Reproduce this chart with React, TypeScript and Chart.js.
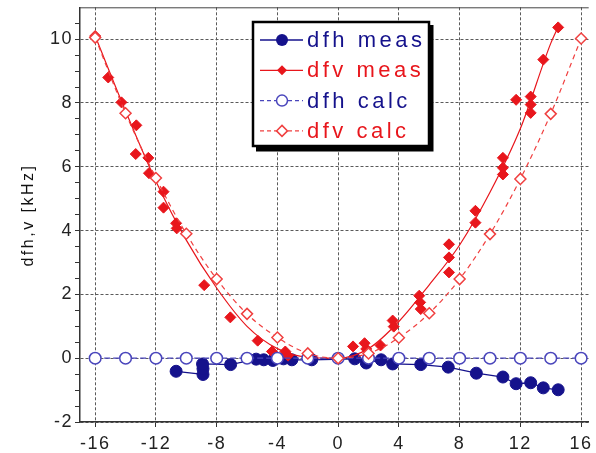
import React, { useEffect, useRef } from 'react';
import { Chart, registerables } from 'chart.js';
Chart.register(...registerables);

// ---------- data ----------
const calcX = [-16, -14, -12, -10, -8, -6, -4, -2, 0, 2, 4, 6, 8, 10, 12, 14, 16];
const dfhCalcY = [0, 0, 0, 0, 0, 0, 0, 0, 0, 0, 0, 0, 0, 0, 0, 0, 0];
const dfvCalcY = [10.05, 7.68, 5.65, 3.9, 2.48, 1.39, 0.65, 0.15, 0, 0.15, 0.64, 1.41, 2.48, 3.89, 5.62, 7.66, 10.02];

const dfhMeasX = [-10.67, -8.9, -8.9, -8.93, -7.08, -5.4, -4.9, -4.3, -3.6, -3.05, -1.74, 1.09, 1.85, 2.83, 3.59, 5.44, 7.25, 9.1, 10.85, 11.72, 12.68, 13.51, 14.49];
const dfhMeasY = [-0.41, -0.51, -0.33, -0.18, -0.2, -0.03, -0.05, -0.07, -0.02, -0.05, -0.05, -0.02, -0.15, -0.05, -0.18, -0.2, -0.28, -0.47, -0.59, -0.8, -0.77, -0.93, -0.99];

const dfvMeasX = [-16.0, -15.14, -14.27, -13.29, -13.33, -12.5, -12.46, -11.5, -11.5, -10.67, -10.63, -8.82, -7.1, -5.3, -4.36, -3.48, -3.3, 0.98, 1.74, 1.85, 2.79, 3.59, 3.66, 5.34, 5.4, 5.44, 7.3, 7.3, 7.3, 9.04, 9.04, 10.85, 10.85, 10.85, 11.72, 12.68, 12.68, 12.68, 13.51, 14.49];
const dfvMeasY = [10.1, 8.8, 8.02, 7.3, 6.4, 6.28, 5.8, 5.22, 4.72, 4.23, 4.07, 2.29, 1.28, 0.55, 0.21, 0.21, 0.08, 0.37, 0.47, 0.29, 0.4, 1.18, 0.99, 1.96, 1.75, 1.54, 3.57, 3.16, 2.69, 4.62, 4.25, 6.28, 5.97, 5.76, 8.1, 8.2, 7.95, 7.69, 9.36, 10.37];

const dfvFitX = [-16, -14, -12, -10, -8, -6, -4, -2, 0, 2, 4, 6, 8, 10, 12, 14, 14.5];
const dfvFitY = [10.1, 7.75, 5.55, 3.7, 2.2, 1.0, 0.3, 0.03, 0, 0.3, 1.15, 2.3, 3.55, 5.2, 7.2, 9.87, 10.4];

const xTickValues = [-16, -12, -8, -4, 0, 4, 8, 12, 16];
const yTickValues = [-2, 0, 2, 4, 6, 8, 10];
const yTitle = 'dfh,v [kHz]';
const legendLabels = ['dfh meas', 'dfv meas', 'dfh calc', 'dfv calc'];

const NAVY = '#15128c';
const RED = '#e8161c';
const BLUE = '#4a46bc';
const LRED = '#f04040';
const GRID = '#5a5a5a';
const FONT = "'Liberation Sans', Arial, sans-serif";

function pts(xs: number[], ys: number[]) {
  return xs.map((x, i) => ({ x, y: ys[i] }));
}

function drawDiamond(ctx: CanvasRenderingContext2D, x: number, y: number, r: number) {
  ctx.beginPath();
  ctx.moveTo(x, y - r);
  ctx.lineTo(x + r, y);
  ctx.lineTo(x, y + r);
  ctx.lineTo(x - r, y);
  ctx.closePath();
}

const decorPlugin = {
  id: 'decor',
  beforeDraw(chart: any) {
    (chart.ctx as any).letterSpacing = '1.5px';
  },
  afterDraw(chart: any) {
    const ctx: CanvasRenderingContext2D = chart.ctx;
    const ca = chart.chartArea;
    ctx.save();
    // top frame
    ctx.strokeStyle = '#444';
    ctx.lineWidth = 1;
    ctx.setLineDash([]);
    ctx.beginPath();
    ctx.moveTo(ca.left, ca.top + 0.5);
    ctx.lineTo(ca.right, ca.top + 0.5);
    ctx.stroke();

    // y title
    ctx.save();
    ctx.translate(29, 215);
    ctx.rotate(-Math.PI / 2);
    (ctx as any).letterSpacing = '2.5px';
    ctx.font = `16px ${FONT}`;
    ctx.fillStyle = '#111';
    ctx.textAlign = 'center';
    ctx.textBaseline = 'middle';
    ctx.fillText(yTitle, 0, 0);
    ctx.restore();

    // legend box
    const bx = 253, by = 22, bw = 176, bh = 124;
    ctx.fillStyle = '#000';
    ctx.fillRect(bx + 3, by + 3, bw + 1.5, bh + 2.5);
    ctx.fillStyle = '#fff';
    ctx.fillRect(bx, by, bw, bh);
    ctx.strokeStyle = '#000';
    ctx.lineWidth = 2.5;
    ctx.strokeRect(bx, by, bw, bh);

    const colors = [NAVY, RED, BLUE, LRED];
    const textColors = [NAVY, RED, NAVY, RED];
    for (let i = 0; i < 4; i++) {
      const y = 40 + 30.3 * i;
      ctx.strokeStyle = colors[i];
      ctx.lineWidth = 1.3;
      ctx.setLineDash(i >= 2 ? [4, 3] : []);
      ctx.beginPath();
      ctx.moveTo(260, y);
      ctx.lineTo(303, y);
      ctx.stroke();
      ctx.setLineDash([]);
      const mx = 282;
      if (i === 0) {
        ctx.fillStyle = NAVY;
        ctx.beginPath();
        ctx.arc(mx, y, 6, 0, Math.PI * 2);
        ctx.fill();
      } else if (i === 1) {
        ctx.fillStyle = RED;
        drawDiamond(ctx, mx, y, 5);
        ctx.fill();
      } else if (i === 2) {
        ctx.fillStyle = '#fff';
        ctx.strokeStyle = BLUE;
        ctx.lineWidth = 1.5;
        ctx.beginPath();
        ctx.arc(mx, y, 5.5, 0, Math.PI * 2);
        ctx.fill();
        ctx.stroke();
      } else {
        ctx.fillStyle = '#fff';
        ctx.strokeStyle = LRED;
        ctx.lineWidth = 1.5;
        drawDiamond(ctx, mx, y, 5.5);
        ctx.fill();
        ctx.stroke();
      }
      (ctx as any).letterSpacing = '3.5px';
      ctx.font = `22px ${FONT}`;
      ctx.fillStyle = textColors[i];
      ctx.textAlign = 'left';
      ctx.textBaseline = 'middle';
      ctx.fillText(legendLabels[i], 307, y + 1);
    }
    ctx.restore();
  },
};

export default function App() {
  const ref = useRef<HTMLCanvasElement | null>(null);
  useEffect(() => {
    if (!ref.current) return;
    const chart = new Chart(ref.current, {
      type: 'line',
      data: {
        datasets: [
          {
            label: 'dfv calc',
            data: pts(calcX, dfvCalcY),
            borderColor: LRED,
            borderWidth: 1.2,
            borderDash: [5, 4],
            backgroundColor: '#ffffff',
            pointStyle: 'rectRot',
            pointRadius: 5.5,
            pointBorderWidth: 1.5,
            pointBackgroundColor: '#ffffff',
            pointBorderColor: LRED,
            cubicInterpolationMode: 'monotone',
          },
          {
            label: 'dfh calc',
            data: pts(calcX, dfhCalcY),
            borderColor: BLUE,
            borderWidth: 1.2,
            borderDash: [6, 3],
            pointStyle: 'circle',
            pointRadius: 5.8,
            pointBorderWidth: 1.5,
            pointBackgroundColor: '#ffffff',
            pointBorderColor: BLUE,
          },
          {
            label: 'dfv meas',
            data: pts(dfvMeasX, dfvMeasY),
            showLine: false,
            borderColor: RED,
            pointStyle: 'rectRot',
            pointRadius: 5.5,
            pointBorderWidth: 1,
            pointBackgroundColor: RED,
            pointBorderColor: RED,
          },
          {
            label: 'dfv fit',
            data: pts(dfvFitX, dfvFitY),
            borderColor: RED,
            borderWidth: 1.2,
            pointRadius: 0,
            cubicInterpolationMode: 'monotone',
          },
          {
            label: 'dfh meas',
            data: pts(dfhMeasX, dfhMeasY),
            borderColor: NAVY,
            borderWidth: 1.3,
            pointStyle: 'circle',
            pointRadius: 6,
            pointBorderWidth: 1,
            pointBackgroundColor: NAVY,
            pointBorderColor: NAVY,
          },
        ],
      },
      options: {
        animation: false,
        responsive: false,
        devicePixelRatio: 1,
        layout: { padding: { top: 7, right: 0, left: 0, bottom: 0 } },
        plugins: { legend: { display: false }, tooltip: { enabled: false } },
        scales: {
          x: {
            type: 'linear',
            min: -17,
            max: 16.5,
            afterBuildTicks: (s: any) => {
              s.ticks = xTickValues.map((v) => ({ value: v }));
            },
            afterFit: (s: any) => {
              s.height = 31;
              s.paddingLeft = 0;
              s.paddingRight = 0;
            },
            ticks: {
              font: { size: 18, family: FONT },
              color: '#222',
              padding: 6,
              maxRotation: 0,
              autoSkip: false,
              callback: (v: any) => String(v),
            },
            grid: {
              color: GRID,
              lineWidth: 1,
              tickLength: 5,
              tickColor: '#333',
            },
            border: { color: '#333', width: 1.5, dash: [3, 2] },
          },
          y: {
            type: 'linear',
            min: -2,
            max: 11,
            afterBuildTicks: (s: any) => {
              const t: any[] = [];
              for (let v = -2; v <= 10.51; v += 0.5) t.push({ value: v });
              s.ticks = t;
            },
            afterFit: (s: any) => {
              s.width = 80;
              s.paddingTop = 0;
              s.paddingBottom = 0;
            },
            ticks: {
              font: { size: 18, family: FONT },
              color: '#222',
              padding: 2,
              autoSkip: false,
              callback: (v: any) => (yTickValues.includes(v) ? String(v) : ''),
            },
            grid: {
              color: (c: any) => (c.tick && yTickValues.includes(c.tick.value) ? GRID : 'rgba(0,0,0,0)'),
              lineWidth: 1,
              tickLength: 5,
              tickColor: '#333',
            },
            border: { color: '#333', width: 1.5, dash: [3, 2] },
          },
        },
      } as any,
      plugins: [decorPlugin],
    });
    return () => chart.destroy();
  }, []);
  return (
    <div style={{ position: 'absolute', left: 0, top: 0, width: 596, height: 453, background: '#fff' }}>
      <canvas ref={ref} width={596} height={453} style={{ width: 596, height: 453, display: 'block' }} />
    </div>
  );
}
